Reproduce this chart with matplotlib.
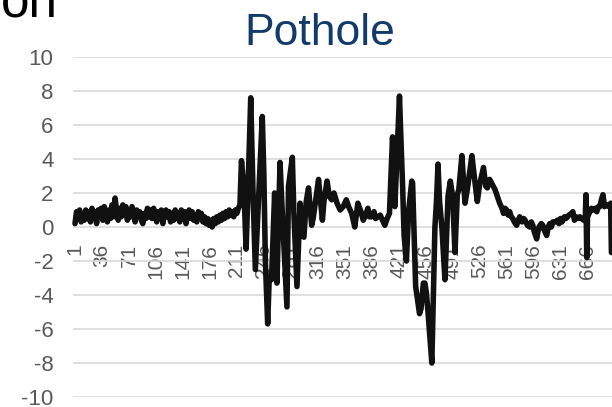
import matplotlib
matplotlib.use("Agg")
import matplotlib.pyplot as plt

# accelerometer trace (sample index -> value)
idx_flat = [1, 3, 5, 7, 9, 11, 13, 15, 17, 19, 21, 23, 25, 27, 29, 31, 33, 35,
            37, 39, 41, 43, 45, 47, 49, 51, 53, 55, 57, 59, 61, 63, 65, 67, 69,
            71, 73, 75, 77, 79, 81, 83, 85, 87, 89, 91, 93, 95, 97, 99, 101, 103,
            105, 107, 109, 111, 113, 115, 117, 119, 121, 123, 125, 127, 129, 131,
            133, 135, 137, 139, 141, 143, 145, 147, 149, 151, 153, 155, 157, 159,
            161, 163, 165, 167, 169, 171, 173, 175, 177, 179, 181, 183, 185, 187,
            189, 191, 193, 195, 197, 199, 201, 203, 205, 207, 209, 211, 213, 215]
val_flat = [0.2, 0.9, 0.6, 1.0, 0.3, 0.7, 0.4, 1.0, 0.5, 0.9, 0.3, 1.1, 0.6, 0.9,
            0.2, 1.0, 0.6, 1.1, 0.4, 1.2, 0.7, 0.3, 1.0, 0.5, 1.3, 0.6, 1.7, 0.9,
            0.4, 1.1, 0.6, 1.3, 0.7, 1.2, 0.4, 1.0, 0.6, 1.2, 0.8, 0.3, 1.0, 0.7,
            0.9, 0.4, 0.2, 0.8, 0.5, 1.1, 0.6, 1.0, 0.5, 1.1, 0.7, 0.3, 0.9, 0.6,
            1.0, 0.2, 0.7, 1.0, 0.6, 0.9, 0.3, 0.8, 0.4, 1.0, 0.5, 0.8, 0.3, 1.0,
            0.6, 0.9, 0.2, 0.7, 1.0, 0.5, 0.9, 0.4, 0.7, 0.3, 0.9, 0.6, 0.8, 0.3,
            0.6, 0.2, 0.5, 0.1, 0.4, 0.0, 0.5, 0.2, 0.6, 0.3, 0.7, 0.4, 0.8, 0.5,
            0.9, 0.6, 1.0, 0.7, 0.9, 0.6, 1.0, 0.8, 1.1, 1.3]

idx_bump = [217, 220, 223, 225, 229, 232, 235, 238, 244, 246, 248, 251, 253, 256,
            260, 263, 267, 270, 276, 278, 283, 285, 289, 293, 298, 301, 304, 308,
            310, 317, 319, 322, 324, 328, 331, 334, 337, 341, 345, 349, 353, 356,
            360, 364, 368, 372, 375, 378, 381, 383, 386, 389, 391, 394, 397, 399,
            403, 406, 409, 413, 416, 422, 424, 426, 428, 431, 434, 438, 439, 443,
            448, 450, 453, 455, 457, 459, 464, 468, 470, 472, 474, 477, 481, 485,
            488, 491, 494, 497, 499, 503, 507, 510, 516, 519, 523, 526, 531, 534,
            536, 539, 546, 549, 552, 555, 557, 559, 561, 563, 565, 567, 569, 571,
            574, 576, 578, 581, 583, 585, 588, 591, 593, 595, 597, 600, 602, 603,
            606, 608, 609, 611, 613, 615, 617, 619, 621, 624, 627, 629, 631, 633,
            636, 638, 640, 642, 645, 647, 649, 651, 653, 656, 658, 661, 663, 664,
            665, 666, 669, 671, 673, 676, 678, 680, 682, 684, 686, 688, 691, 694,
            696, 697]
val_bump = [3.9, 2.4, -1.3, 1.5, 7.6, 2.0, -2.5, 0.5, 6.5, 3.2, -2.0, -5.7, -3.0,
            -3.1, 2.0, -3.3, 3.8, 0.8, -4.7, 2.4, 4.1, 0.8, -3.5, 1.4, -0.6, 1.5,
            2.3, 0.1, 0.5, 2.8, 1.8, 0.4, 1.5, 2.7, 1.8, 1.6, 2.0, 1.4, 1.0, 1.2,
            1.6, 1.2, 0.8, 0.0, 1.4, 0.9, 0.4, 0.7, 1.1, 0.6, 0.6, 0.9, 0.5, 0.6,
            0.7, 0.5, 0.1, 0.5, 0.8, 5.3, 1.2, 7.7, 5.0, 2.5, -0.5, -2.0, 1.0, 2.7,
            2.6, -3.5, -5.1, -4.8, -3.3, -3.3, -3.9, -5.0, -8.0, 0.0, 1.5, 3.7,
            1.5, 0.0, -3.1, 1.8, 2.7, 1.8, -1.5, 1.9, 2.2, 4.2, 1.4, 2.2, 4.2, 3.0,
            1.5, 2.5, 3.5, 2.4, 2.3, 2.8, 2.2, 1.8, 1.4, 1.1, 0.8, 1.1, 1.0, 0.7,
            0.9, 0.6, 0.5, 0.3, 0.1, 0.4, 0.6, 0.3, 0.5, 0.4, 0.1, 0.0, 0.3, 0.1,
            -0.3, -0.7, -0.2, 0.0, 0.2, 0.1, -0.1, -0.3, -0.5, 0.0, 0.2, 0.0, 0.3,
            0.3, 0.4, 0.2, 0.5, 0.3, 0.6, 0.5, 0.6, 0.7, 0.8, 0.9, 0.4, 0.6, 0.5,
            0.6, 0.5, 0.4, 0.4, 1.9, -1.8, 0.6, 0.9, 1.1, 1.0, 1.1, 0.9, 1.2, 1.2,
            1.6, 1.9, 1.2, 1.3, 1.2, 1.4, -1.5]

tick_labels = [1, 36, 71, 106, 141, 176, 211, 246, 281, 316, 351, 386, 421, 456,
               491, 526, 561, 596, 631, 666]
y_ticks = [-10, -8, -6, -4, -2, 0, 2, 4, 6, 8, 10]

x = idx_flat + idx_bump
y = val_flat + val_bump

plt.rcParams['font.family'] = ['Liberation Sans', 'DejaVu Sans']

fig = plt.figure(figsize=(6.12, 4.07), dpi=100)
# plot area runs past the right edge (reference is cropped there)
ax = fig.add_axes([73 / 612, 10 / 407, 560 / 612, 340 / 407])

ax.plot(x, y, color='#111111', lw=4.0, solid_joinstyle='round',
        solid_capstyle='round', zorder=3, clip_on=False)

ax.set_xlim(-1.6, 725)
ax.set_ylim(-10, 10)
ax.set_yticks(y_ticks)
ax.set_yticklabels([str(v) for v in y_ticks])
ax.set_xticks(tick_labels)
ax.set_xticklabels([str(v) for v in tick_labels])

ax.grid(axis='y', color='#d9d9d9', lw=1.2)
ax.set_axisbelow(True)
for s in ['top', 'right', 'left']:
    ax.spines[s].set_visible(False)
ax.spines['bottom'].set_position(('data', 0))
ax.spines['bottom'].set_visible(False)

ax.tick_params(axis='y', length=0, pad=14, labelsize=16, labelcolor='#595959')
ax.tick_params(axis='x', length=0, pad=12, labelsize=15, labelcolor='#595959',
               labelrotation=90)

fig.text(320 / 612, 1 - 45 / 407, 'Pothole', ha='center', va='baseline',
         fontsize=32, color='#123a6b')
fig.text(58 / 612, 1 - 17 / 407, 'on', ha='right', va='baseline',
         fontsize=37, color='black')

fig.savefig('out.png', dpi=100)
